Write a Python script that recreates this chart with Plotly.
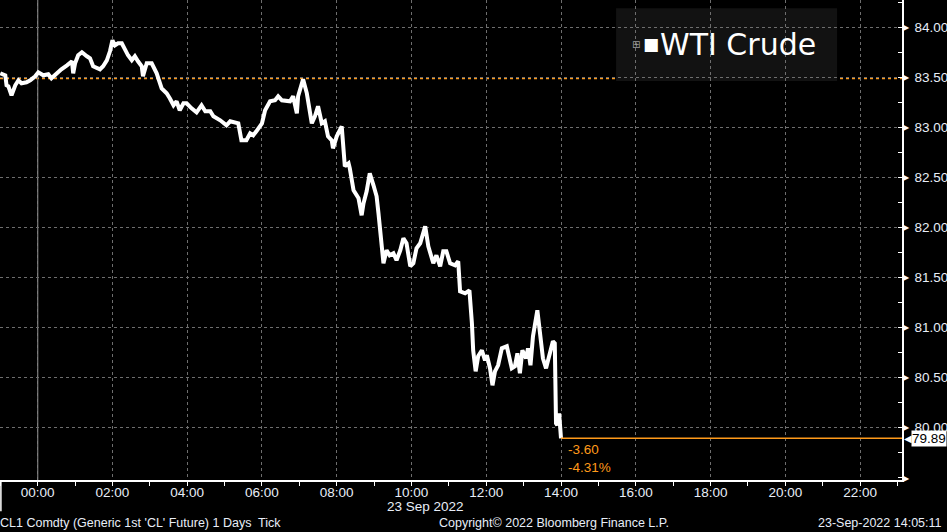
import pandas as pd
import plotly.graph_objects as go

# ---- data (minutes from 23 Sep 2022 00:00, price) ----
minutes = [-60, -52, -50, -47, -42, -36, -31, -26, -18, -12, -4, 1, 9, 17, 22, 30, 38, 47, 55, 57,
           60, 65, 71, 79, 84, 89, 100, 105, 111, 116, 120, 124, 129, 135, 140, 145, 151, 156, 161, 167,
           169, 175, 183, 191, 199, 207, 212, 218, 223, 228, 234, 239, 247, 255, 263, 269, 277, 282, 293, 303,
           309, 317, 322, 327, 335, 341, 346, 351, 360, 365, 373, 381, 386, 392, 397, 405, 410, 416, 418, 424,
           426, 432, 440, 445, 450, 456, 461, 466, 472, 474, 480, 488, 493, 499, 501, 507, 515, 520, 523, 528,
           533, 539, 544, 547, 552, 555, 560, 565, 571, 576, 582, 587, 592, 598, 603, 608, 614, 622, 627, 635,
           640, 646, 651, 656, 662, 670, 675, 678, 686, 693, 697, 699, 703, 707, 713, 718, 721, 726, 730, 734,
           739, 745, 753, 761, 766, 770, 774, 778, 784, 787, 791, 795, 802, 806, 811, 816, 822, 827, 830, 832,
           834, 837, 840]
prices = [83.54, 83.52, 83.42, 83.41, 83.32, 83.42, 83.47, 83.44, 83.45, 83.47, 83.51, 83.55, 83.52, 83.53, 83.49, 83.54, 83.58, 83.62, 83.66, 83.54,
          83.64, 83.72, 83.75, 83.71, 83.69, 83.61, 83.58, 83.61, 83.67, 83.76, 83.87, 83.82, 83.84, 83.84, 83.77, 83.72, 83.67, 83.71, 83.66, 83.61,
          83.51, 83.64, 83.64, 83.54, 83.39, 83.34, 83.29, 83.22, 83.26, 83.17, 83.24, 83.24, 83.19, 83.15, 83.22, 83.16, 83.16, 83.11, 83.07, 83.02,
          83.06, 83.05, 83.04, 82.87, 82.87, 82.94, 82.92, 82.96, 83.04, 83.17, 83.26, 83.27, 83.31, 83.27, 83.27, 83.26, 83.31, 83.14, 83.31, 83.44,
          83.48, 83.34, 83.04, 83.11, 83.21, 83.04, 83.06, 82.91, 82.87, 82.79, 82.91, 83.01, 82.61, 82.64, 82.59, 82.37, 82.29, 82.12, 82.24, 82.36,
          82.54, 82.42, 82.31, 82.14, 81.79, 81.64, 81.77, 81.72, 81.74, 81.67, 81.77, 81.89, 81.84, 81.61, 81.64, 81.79, 81.84, 82.01, 81.81, 81.64,
          81.72, 81.61, 81.76, 81.76, 81.64, 81.62, 81.66, 81.36, 81.34, 81.37, 81.04, 80.77, 80.56, 80.71, 80.77, 80.67, 80.72, 80.59, 80.42, 80.56,
          80.62, 80.79, 80.81, 80.59, 80.61, 80.74, 80.54, 80.77, 80.69, 80.79, 80.62, 80.91, 81.17, 80.91, 80.69, 80.59, 80.74, 80.86, 80.84, 80.04,
          80.02, 80.14, 79.89]
prev_close = 83.49
y_ticks = [80.0, 80.5, 81.0, 81.5, 82.0, 82.5, 83.0, 83.5, 84.0]
series_name = "WTI Crude"
base_day = pd.Timestamp("2022-09-23 00:00")
x_start = pd.Timestamp("2022-09-22 22:59:30")
x_end = pd.Timestamp("2022-09-23 23:07:20")

times = [base_day + pd.Timedelta(minutes=m) for m in minutes]
last = prices[-1]
chg = last - prev_close
pct = chg / prev_close * 100

ORANGE = "#ff9a1a"
FONT = "Liberation Sans"
TXT = "#e8eef8"

fig = go.Figure()
fig.add_trace(go.Scatter(x=times, y=prices, mode="lines",
                         line=dict(color="white", width=4), showlegend=False,
                         hoverinfo="skip"))

# previous close dotted line
fig.add_shape(type="line", xref="paper", x0=0, x1=1, yref="y", y0=prev_close, y1=prev_close,
              line=dict(color=ORANGE, width=2, dash="dot"), layer="below")
# last price line
fig.add_shape(type="line", xref="x", x0=times[-1], x1=x_end, yref="y", y0=last, y1=last,
              line=dict(color=ORANGE, width=1.5))
# day separator
fig.add_shape(type="line", xref="x", x0=base_day, x1=base_day, yref="paper", y0=0, y1=1,
              line=dict(color="#8a8a8a", width=1.2), layer="below")
# left edge marker below axis
fig.add_shape(type="line", xref="paper", x0=0.001, x1=0.001, yref="paper", y0=0, y1=-0.065,
              line=dict(color="white", width=1.5))
# legend box
fig.add_shape(type="rect", xref="paper", yref="paper", x0=0.683, x1=0.928, y0=0.831, y1=0.983,
              fillcolor="#121212", line=dict(width=0), layer="below")

ann = []
# change annotation
ann.append(dict(x=times[-1], y=last, xref="x", yref="y", xanchor="left", yanchor="top",
                text=f"{chg:.2f}<br>{pct:.2f}%", showarrow=False, align="left",
                xshift=5, yshift=-2, font=dict(family=FONT, size=13.5, color=ORANGE)))
# last price box
ann.append(dict(x=1, y=last, xref="paper", yref="y", xanchor="left", yanchor="middle",
                text="◀", showarrow=False, xshift=0,
                font=dict(family="DejaVu Sans", size=10, color="white")))
ann.append(dict(x=1, y=last, xref="paper", yref="y", xanchor="left", yanchor="middle",
                text=f"{last:.2f}", showarrow=False, xshift=9, bgcolor="white", borderpad=0,
                font=dict(family=FONT, size=13.5, color="black")))
# tick arrows
for v in y_ticks:
    ann.append(dict(x=1, y=v, xref="paper", yref="y", xanchor="left", yanchor="middle",
                    text="▶", showarrow=False, xshift=-1,
                    font=dict(family="DejaVu Sans", size=8, color="white")))
ann.append(dict(x=1, y=0, xref="paper", yref="paper", xanchor="left", yanchor="middle",
                text="▶", showarrow=False, xshift=-1, yshift=2,
                font=dict(family="DejaVu Sans", size=8, color="white")))
# legend: icon, swatch, text
ann.append(dict(x=0.698, y=0.908, xref="paper", yref="paper", xanchor="left", yanchor="middle",
                text="⊞", showarrow=False, font=dict(family="DejaVu Sans", size=10, color="#9a9a9a")))
ann.append(dict(x=0.711, y=0.908, xref="paper", yref="paper", xanchor="left", yanchor="middle",
                text="■", showarrow=False, font=dict(family="DejaVu Sans", size=17, color="white")))
ann.append(dict(x=0.729, y=0.908, xref="paper", yref="paper", xanchor="left", yanchor="middle",
                text=series_name, showarrow=False,
                font=dict(family="DejaVu Sans", size=30, color="white")))
# date under axis
ann.append(dict(x=pd.Timestamp("2022-09-23 10:22"), y=0, xref="x", yref="paper",
                xanchor="center", yanchor="middle", yshift=-26, text="23 Sep 2022",
                showarrow=False, font=dict(family=FONT, size=13.5, color=TXT)))
# footer
ann.append(dict(x=0, y=0, xref="paper", yref="paper", xanchor="left", yanchor="middle",
                yshift=-43, xshift=-2, text="CL1 Comdty (Generic 1st 'CL' Future) 1 Days  Tick",
                showarrow=False, font=dict(family=FONT, size=12.5, color=TXT)))
ann.append(dict(x=0.4845, y=0, xref="paper", yref="paper", xanchor="left", yanchor="middle",
                yshift=-43, text="Copyright© 2022 Bloomberg Finance L.P.",
                showarrow=False, font=dict(family=FONT, size=12.5, color=TXT)))
ann.append(dict(x=1, y=0, xref="paper", yref="paper", xanchor="right", yanchor="middle",
                yshift=-43, xshift=42, text="23-Sep-2022 14:05:11",
                showarrow=False, font=dict(family=FONT, size=12.5, color=TXT)))

fig.update_layout(
    width=947, height=532,
    margin=dict(l=0, r=45, t=0, b=52),
    paper_bgcolor="black", plot_bgcolor="black",
    showlegend=False,
    annotations=ann,
    xaxis=dict(
        type="date", range=[x_start, x_end],
        tick0=base_day, dtick=2 * 3600 * 1000, tickformat="%H:%M",
        showgrid=True, gridcolor="#6e6e6e", griddash="dot", gridwidth=1,
        ticks="outside", ticklen=4, tickcolor="white", ticklabelstandoff=-5,
        minor=dict(dtick=3600 * 1000, tick0=base_day, ticks="outside", ticklen=4,
                   tickcolor="white", showgrid=False),
        showline=True, linecolor="white", linewidth=1.5,
        tickfont=dict(family=FONT, size=13.5, color=TXT),
        zeroline=False, automargin=False, fixedrange=True,
    ),
    yaxis=dict(
        side="right", range=[79.473, 84.273],
        tickvals=y_ticks, ticktext=[f"{v:.2f}" for v in y_ticks],
        showgrid=True, gridcolor="#6e6e6e", griddash="dot", gridwidth=1,
        ticks="", ticklabelstandoff=8,
        minor=dict(dtick=0.25, tick0=79.75, ticks="inside", ticklen=4, tickcolor="white",
                   showgrid=False),
        showline=True, linecolor="white", linewidth=1.5,
        tickfont=dict(family=FONT, size=13.5, color=TXT),
        zeroline=False, automargin=False, fixedrange=True,
    ),
)

fig.write_html("out.html", config={"displayModeBar": False},
               post_script="document.body.style.margin='0';document.body.style.background='black';")
